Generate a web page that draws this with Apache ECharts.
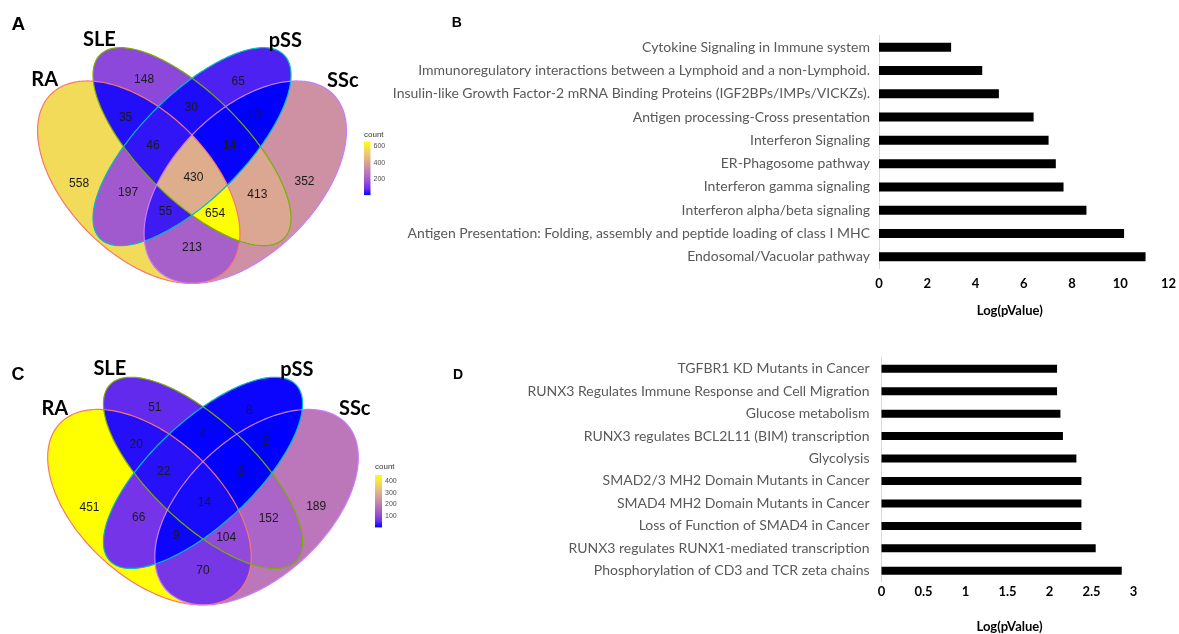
<!DOCTYPE html>
<html>
<head>
<meta charset="utf-8">
<script src="https://cdn.jsdelivr.net/npm/echarts@6/dist/echarts.min.js"></script>
<style>
html,body{margin:0;padding:0;background:#ffffff;}
#chart{width:1179px;height:634px;}
</style>
</head>
<body>
<div id="chart"></div>
<script>
// ---- Venn data: shared genes between the four diseases ----
const setNames = ['RA', 'SLE', 'pSS', 'SSc'];
// region membership flags in the order RA, SLE, pSS, SSc
const regionCodes = ['1000','0100','0010','0001','1100','1010','1001','0110','0101','0011','1110','1101','1011','0111','1111'];
const countsA = [558, 148, 65, 352, 35, 197, 213, 30, 413, 10, 46, 654, 55, 14, 430];
const countsC = [451, 51, 8, 189, 20, 66, 70, 4, 152, 2, 22, 104, 9, 2, 14];
const legendTicksA = [200, 400, 600];
const legendTicksC = [100, 200, 300, 400];

// ---- Reactome enrichment ----
const pathwaysB = [
  'Cytokine Signaling in Immune system',
  'Immunoregulatory interactions between a Lymphoid and a non-Lymphoid.',
  'Insulin-like Growth Factor-2 mRNA Binding Proteins (IGF2BPs/IMPs/VICKZs).',
  'Antigen processing-Cross presentation',
  'Interferon Signaling',
  'ER-Phagosome pathway',
  'Interferon gamma signaling',
  'Interferon alpha/beta signaling',
  'Antigen Presentation: Folding, assembly and peptide loading of class I MHC',
  'Endosomal/Vacuolar pathway'
];
const logPB = [2.99, 4.28, 4.97, 6.41, 7.03, 7.33, 7.65, 8.60, 10.16, 11.05];
const ticksB = [0, 2, 4, 6, 8, 10, 12];

const pathwaysD = [
  'TGFBR1 KD Mutants in Cancer',
  'RUNX3 Regulates Immune Response and Cell Migration',
  'Glucose metabolism',
  'RUNX3 regulates BCL2L11 (BIM) transcription',
  'Glycolysis',
  'SMAD2/3 MH2 Domain Mutants in Cancer',
  'SMAD4 MH2 Domain Mutants in Cancer',
  'Loss of Function of SMAD4 in Cancer',
  'RUNX3 regulates RUNX1-mediated transcription',
  'Phosphorylation of CD3 and TCR zeta chains'
];
const logPD = [2.09, 2.09, 2.13, 2.16, 2.32, 2.38, 2.38, 2.38, 2.55, 2.86];
const ticksD = [0, 0.5, 1, 1.5, 2, 2.5, 3];
const axisTitle = 'Log(pValue)';

// ---- Venn layout (unit square, y up) ----
const ellipses = [
  {cx: 0.35, cy: 0.47, a: 0.35,  b: 0.20,  rot: -45, stroke: '#F8766D'},
  {cx: 0.50, cy: 0.57, a: 0.366, b: 0.147, rot: -45, stroke: '#7CAE00'},
  {cx: 0.50, cy: 0.57, a: 0.366, b: 0.147, rot: 45,  stroke: '#00BFC4'},
  {cx: 0.65, cy: 0.47, a: 0.35,  b: 0.20,  rot: 45,  stroke: '#C77CFF'}
];
const regionLabelAt = {
  '1000': [0.182, 0.467], '0100': [0.365, 0.759], '0010': [0.630, 0.752], '0001': [0.817, 0.471],
  '1100': [0.313, 0.651], '1010': [0.320, 0.440], '1001': [0.500, 0.286], '0110': [0.498, 0.680],
  '0101': [0.684, 0.435], '0011': [0.676, 0.661], '1110': [0.390, 0.572], '1101': [0.565, 0.381],
  '1011': [0.425, 0.388], '0111': [0.606, 0.572], '1111': [0.504, 0.482]
};
const setLabelAt = [[0.085, 0.758], [0.239, 0.873], [0.763, 0.870], [0.925, 0.757]];

// blue -> yellow ramp (interpolated in Lab)
const ramp = ['#0000FF','#6F30EA','#9850D5','#B46DC0','#CA8AAA','#DBA792','#EAC476','#F5E153','#FFFF00'];

function ellipsePoly(e, n) {
  const r = e.rot * Math.PI / 180, c = Math.cos(r), s = Math.sin(r), pts = [];
  for (let i = 0; i < n; i++) {
    const t = 2 * Math.PI * i / n;
    const x = e.a * Math.cos(t), y = e.b * Math.sin(t);
    pts.push([e.cx + x * c - y * s, e.cy + x * s + y * c]);
  }
  return pts;
}
// Sutherland-Hodgman clipping against a convex counter-clockwise polygon
function clipConvex(subject, clip) {
  let out = subject;
  for (let i = 0; i < clip.length && out.length; i++) {
    const A = clip[i], B = clip[(i + 1) % clip.length];
    const inside = p => (B[0] - A[0]) * (p[1] - A[1]) - (B[1] - A[1]) * (p[0] - A[0]) >= 0;
    const cross = (P, Q) => {
      const den = (P[0] - Q[0]) * (A[1] - B[1]) - (P[1] - Q[1]) * (A[0] - B[0]);
      const t = ((P[0] - A[0]) * (A[1] - B[1]) - (P[1] - A[1]) * (A[0] - B[0])) / den;
      return [P[0] + t * (Q[0] - P[0]), P[1] + t * (Q[1] - P[1])];
    };
    const inp = out; out = [];
    for (let j = 0; j < inp.length; j++) {
      const P = inp[j], Q = inp[(j + 1) % inp.length];
      const pin = inside(P), qin = inside(Q);
      if (pin) { out.push(P); if (!qin) out.push(cross(P, Q)); }
      else if (qin) out.push(cross(P, Q));
    }
  }
  return out;
}
const ellipsePolys = ellipses.map(e => ellipsePoly(e, 240));
// each region is painted as the intersection of its member sets, fewest sets first,
// so that every point ends up with the colour of its exact combination
const regionPolys = regionCodes.map(code => {
  let poly = null;
  for (let k = 0; k < 4; k++) {
    if (code[k] === '1') poly = poly ? clipConvex(poly, ellipsePolys[k]) : ellipsePolys[k];
  }
  return poly;
});
const popcount = code => code.split('').filter(ch => ch === '1').length;

const vennFont = '"Liberation Sans", Arial, sans-serif';

function vennSeries(g, counts) {
  const data = regionCodes.map((code, i) => [i, counts[i]]);
  return [
    {
      type: 'custom', coordinateSystem: 'cartesian2d', xAxisIndex: g, yAxisIndex: g,
      silent: true, z: 2, data: data,
      renderItem: function (params, api) {
        const i = api.value(0);
        const pts = regionPolys[i].map(p => api.coord(p));
        return {type: 'polygon', z2: popcount(regionCodes[i]), shape: {points: pts},
                style: {fill: api.visual('color'), stroke: 'none'}};
      }
    },
    {
      type: 'custom', coordinateSystem: 'cartesian2d', xAxisIndex: g, yAxisIndex: g,
      silent: true, z: 3, data: ellipses.map((e, i) => [i, 0]),
      renderItem: function (params, api) {
        const i = api.value(0);
        const pts = ellipsePolys[i].map(p => api.coord(p));
        return {type: 'polygon', shape: {points: pts},
                style: {fill: 'none', stroke: ellipses[i].stroke, lineWidth: 1.2}};
      }
    },
    {
      type: 'custom', coordinateSystem: 'cartesian2d', xAxisIndex: g, yAxisIndex: g,
      silent: true, z: 4, data: data,
      renderItem: function (params, api) {
        const i = api.value(0);
        const p = api.coord(regionLabelAt[regionCodes[i]]);
        return {type: 'text', x: p[0], y: p[1],
                style: {text: String(api.value(1)), fill: '#1a1a1a', font: '12px ' + vennFont,
                        align: 'center', verticalAlign: 'middle', textAlign: 'center', textVerticalAlign: 'middle'}};
      }
    },
    {
      type: 'custom', coordinateSystem: 'cartesian2d', xAxisIndex: g, yAxisIndex: g,
      silent: true, z: 4, data: setNames.map((n, i) => [i, 0]),
      renderItem: function (params, api) {
        const i = api.value(0);
        const p = api.coord(setLabelAt[i]);
        return {type: 'text', x: p[0], y: p[1],
                style: {text: setNames[i], fill: '#000', font: 'bold 20px Lato, sans-serif',
                        align: 'center', verticalAlign: 'middle', textAlign: 'center', textVerticalAlign: 'middle'}};
      }
    }
  ];
}

function colorbarSeries(g, lo, hi) {
  const stops = ramp.map((c, i) => ({offset: 1 - i / (ramp.length - 1), color: c}));
  return {
    type: 'custom', coordinateSystem: 'cartesian2d', xAxisIndex: g, yAxisIndex: g,
    silent: true, z: 2, data: [[0, lo, hi]],
    renderItem: function (params, api) {
      const p1 = api.coord([0, api.value(2)]);
      const p2 = api.coord([1, api.value(1)]);
      return {type: 'rect', shape: {x: p1[0], y: p1[1], width: p2[0] - p1[0], height: p2[1] - p1[1]},
              style: {fill: new echarts.graphic.LinearGradient(0, 0, 0, 1, stops)}};
    }
  };
}

const minA = Math.min(...countsA), maxA = Math.max(...countsA);
const minC = Math.min(...countsC), maxC = Math.max(...countsC);

const grids = [
  {left: 14.5, top: 29.5, width: 355, height: 284},      // 0 Venn A
  {left: 24.5, top: 359.7, width: 357, height: 285.6},   // 1 Venn C
  {left: 364, top: 141.5, width: 6.5, height: 53.6},     // 2 colour bar A
  {left: 375, top: 475, width: 7, height: 52.4},         // 3 colour bar C
  {left: 879, top: 35.5, width: 292, height: 233},       // 4 bars B
  {left: 881.5, top: 357.5, width: 252, height: 226}     // 5 bars D
];

const hiddenX = (g, min, max) => ({type: 'value', gridIndex: g, min: min, max: max, show: false});
const hiddenY = (g, min, max) => ({type: 'value', gridIndex: g, min: min, max: max, show: false});

function colorbarAxis(g, lo, hi, ticks) {
  return {
    type: 'value', gridIndex: g, min: lo, max: hi, position: 'right', z: 10,
    axisLine: {show: false}, splitLine: {show: false},
    axisTick: {show: true, inside: true, length: 2, customValues: ticks, lineStyle: {color: '#ffffff', width: 1}},
    axisLabel: {customValues: ticks, fontSize: 7, color: '#4d4d4d', margin: 3, fontFamily: vennFont}
  };
}

const catLabel = {color: '#595959', fontFamily: 'Lato, sans-serif', fontSize: 14};
const numLabel = {color: '#000', fontFamily: 'Lato, sans-serif', fontSize: 13, fontWeight: 'bold'};
const nameStyle = {color: '#000', fontFamily: 'Lato, sans-serif', fontSize: 13, fontWeight: 'bold'};

const option = {
  backgroundColor: '#ffffff',
  animation: false,
  grid: grids,
  xAxis: [
    hiddenX(0, 0, 1), hiddenX(1, 0, 1), hiddenX(2, 0, 1), hiddenX(3, 0, 1),
    {type: 'value', gridIndex: 4, min: ticksB[0], max: ticksB[ticksB.length - 1], interval: ticksB[1] - ticksB[0],
     axisLine: {show: false}, axisTick: {show: false}, splitLine: {show: false},
     axisLabel: Object.assign({margin: 9}, numLabel),
     name: axisTitle, nameLocation: 'middle', nameGap: 36,
     nameTextStyle: Object.assign({padding: [0, 28, 0, 0]}, nameStyle)},
    {type: 'value', gridIndex: 5, min: ticksD[0], max: ticksD[ticksD.length - 1], interval: ticksD[1] - ticksD[0],
     axisLine: {show: false}, axisTick: {show: false}, splitLine: {show: false},
     axisLabel: Object.assign({margin: 3}, numLabel),
     name: axisTitle, nameLocation: 'middle', nameGap: 38,
     nameTextStyle: Object.assign({padding: [0, 0, 0, 4]}, nameStyle)}
  ],
  yAxis: [
    hiddenY(0, 0.1, 0.9), hiddenY(1, 0.1, 0.9),
    colorbarAxis(2, minA, maxA, legendTicksA),
    colorbarAxis(3, minC, maxC, legendTicksC),
    {type: 'category', gridIndex: 4, data: pathwaysB, inverse: true,
     axisLine: {show: true, lineStyle: {color: '#d9d9d9', width: 1}}, axisTick: {show: false},
     axisLabel: Object.assign({margin: 9}, catLabel)},
    {type: 'category', gridIndex: 5, data: pathwaysD, inverse: true,
     axisLine: {show: true, lineStyle: {color: '#d9d9d9', width: 1}}, axisTick: {show: false},
     axisLabel: Object.assign({margin: 12}, catLabel)}
  ],
  visualMap: [
    {type: 'continuous', show: false, seriesIndex: 0, dimension: 1, min: minA, max: maxA, inRange: {color: ramp}},
    {type: 'continuous', show: false, seriesIndex: 4, dimension: 1, min: minC, max: maxC, inRange: {color: ramp}}
  ],
  series: [].concat(
    vennSeries(0, countsA),
    vennSeries(1, countsC),
    [
      colorbarSeries(2, minA, maxA),
      colorbarSeries(3, minC, maxC),
      {type: 'bar', xAxisIndex: 4, yAxisIndex: 4, data: logPB, barWidth: 9, itemStyle: {color: '#000'}, silent: true},
      {type: 'bar', xAxisIndex: 5, yAxisIndex: 5, data: logPD, barWidth: 8, itemStyle: {color: '#000'}, silent: true}
    ]
  ),
  graphic: [
    {type: 'text', x: 18.3, y: 25, style: {text: 'A', font: 'bold 19px ' + vennFont, fill: '#000', align: 'center', verticalAlign: 'middle', textAlign: 'center', textVerticalAlign: 'middle'}},
    {type: 'text', x: 456.7, y: 23.3, style: {text: 'B', font: 'bold 14px ' + vennFont, fill: '#000', align: 'center', verticalAlign: 'middle', textAlign: 'center', textVerticalAlign: 'middle'}},
    {type: 'text', x: 18, y: 375.5, style: {text: 'C', font: 'bold 18px ' + vennFont, fill: '#000', align: 'center', verticalAlign: 'middle', textAlign: 'center', textVerticalAlign: 'middle'}},
    {type: 'text', x: 458, y: 375, style: {text: 'D', font: 'bold 14px ' + vennFont, fill: '#000', align: 'center', verticalAlign: 'middle', textAlign: 'center', textVerticalAlign: 'middle'}},
    {type: 'text', x: 364, y: 135, style: {text: 'count', font: '8px ' + vennFont, fill: '#333', align: 'left', verticalAlign: 'middle', textAlign: 'left', textVerticalAlign: 'middle'}},
    {type: 'text', x: 375, y: 466.7, style: {text: 'count', font: '8px ' + vennFont, fill: '#333', align: 'left', verticalAlign: 'middle', textAlign: 'left', textVerticalAlign: 'middle'}}
  ]
};

const chart = echarts.init(document.getElementById('chart'), null, {renderer: 'canvas'});
chart.setOption(option);
</script>
</body>
</html>
